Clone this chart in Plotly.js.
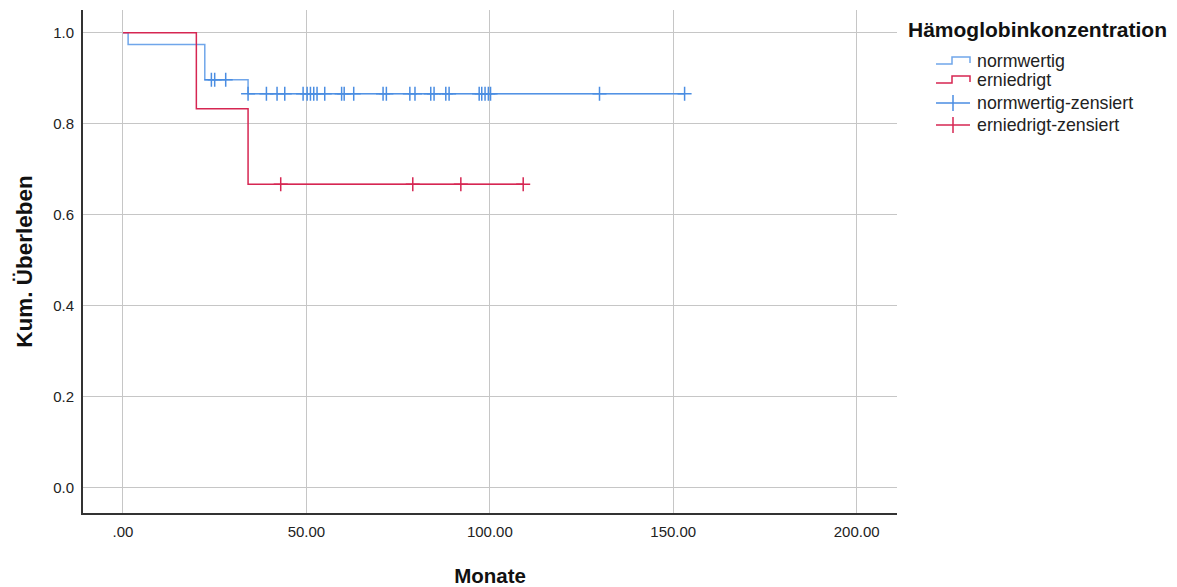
<!DOCTYPE html>
<html>
<head>
<meta charset="utf-8">
<script src="https://cdn.plot.ly/plotly-3.0.1.min.js"></script>
<style>
  html, body { margin: 0; padding: 0; background: #fff; }
  #chart { width: 1177px; height: 587px; }
</style>
</head>
<body>
<div id="chart"></div>
<script>
// Kaplan-Meier step functions (months, cumulative survival)
const normTimes = [0, 1.4, 22.3, 34.1, 153.1];
const normSurv  = [1.0, 0.974, 0.897, 0.866, 0.866];
const lowTimes  = [0, 20.0, 34.1, 109.1];
const lowSurv   = [1.0, 0.833, 0.667, 0.667];

// Censored observations (months)
const normCensored = [24.1, 25.0, 28.0, 34.1, 39.1, 42.0, 44.1, 49.1, 50.2, 51.1, 52.0,
                      52.9, 55.0, 59.6, 60.3, 62.9, 70.9, 71.8, 78.2, 79.6, 83.9, 84.8,
                      88.0, 88.9, 97.1, 97.8, 98.7, 99.6, 100.2, 129.9, 153.1];
const lowCensored  = [43.0, 79.0, 92.1, 109.1];

// Axis ticks
const xTickVals = [0, 50, 100, 150, 200];
const xTickText = ['.00', '50.00', '100.00', '150.00', '200.00'];
const yTickVals = [0, 0.2, 0.4, 0.6, 0.8, 1.0];
const yTickText = ['0.0', '0.2', '0.4', '0.6', '0.8', '1.0'];

const groupNames = ['normwertig', 'erniedrigt', 'normwertig-zensiert', 'erniedrigt-zensiert'];
const legendTitle = 'Hämoglobinkonzentration';

// survival level of a step function at time t
function levelAt(times, surv, t) {
  let s = surv[0];
  for (let i = 0; i < times.length; i++) {
    if (times[i] <= t) s = surv[i];
  }
  return s;
}

// censor marks placed on the curve; a gap is inserted where the level changes
function censorPoints(times, surv, cens) {
  const xs = [], ys = [];
  let prev = null;
  cens.forEach(t => {
    const s = levelAt(times, surv, t);
    if (prev !== null && s !== prev) { xs.push(null); ys.push(null); }
    xs.push(t); ys.push(s);
    prev = s;
  });
  return { xs, ys };
}

const blueLine = 'rgb(112,166,234)';
const blueMark = 'rgb(74,141,226)';
const redLine  = 'rgb(214,38,82)';
const font = 'Arial, "Liberation Sans", sans-serif';

const nc = censorPoints(normTimes, normSurv, normCensored);
const lc = censorPoints(lowTimes, lowSurv, lowCensored);

const traces = [
  {
    x: normTimes, y: normSurv, name: groupNames[0], type: 'scatter', mode: 'lines',
    line: { shape: 'hv', color: blueLine, width: 1.5 }
  },
  {
    x: nc.xs, y: nc.ys, name: groupNames[2], type: 'scatter', mode: 'lines+markers',
    connectgaps: false,
    line: { color: blueMark, width: 1.2 },
    marker: { symbol: 'cross-thin', size: 10, color: blueMark, line: { color: blueMark, width: 1.5 } }
  },
  {
    x: lowTimes, y: lowSurv, name: groupNames[1], type: 'scatter', mode: 'lines',
    line: { shape: 'hv', color: redLine, width: 1.5 }
  },
  {
    x: lc.xs, y: lc.ys, name: groupNames[3], type: 'scatter', mode: 'lines+markers',
    connectgaps: false,
    line: { color: redLine, width: 1.2 },
    marker: { symbol: 'cross-thin', size: 10, color: redLine, line: { color: redLine, width: 1.5 } }
  }
];

// ---- legend block to the right of the plot (paper coordinates) ----
const M = { l: 83, r: 280, t: 10, b: 74 };
const W = 1177, H = 587;
const pw = W - M.l - M.r, ph = H - M.t - M.b;
const px = v => (v - M.l) / pw;          // pixel column -> paper x
const py = v => (H - M.b - v) / ph;      // pixel row    -> paper y

const legendRows = [
  { name: groupNames[0], color: blueLine, kind: 'step',   y: 61 },
  { name: groupNames[1], color: redLine,  kind: 'step',   y: 80 },
  { name: groupNames[2], color: blueMark, kind: 'censor', y: 103 },
  { name: groupNames[3], color: redLine,  kind: 'censor', y: 125 }
];

const shapes = [];
const annotations = [{
  xref: 'paper', yref: 'paper', x: px(906), y: py(30), xanchor: 'left', yanchor: 'middle',
  text: '<b>' + legendTitle + '</b>', showarrow: false,
  font: { size: 21, color: '#111', family: font }
}];

legendRows.forEach(r => {
  const x0 = 936, x1 = 970;
  if (r.kind === 'step') {
    const lo = r.y + 3, hi = r.y - 4, xm = 952;
    shapes.push({
      type: 'path', xref: 'paper', yref: 'paper',
      path: `M${px(x0)},${py(lo)} L${px(xm)},${py(lo)} L${px(xm)},${py(hi)} L${px(x1)},${py(hi)} L${px(x1)},${py(lo - 1)}`,
      line: { color: r.color, width: 1.5 }
    });
  } else {
    shapes.push({
      type: 'line', xref: 'paper', yref: 'paper',
      x0: px(x0), x1: px(x1), y0: py(r.y), y1: py(r.y),
      line: { color: r.color, width: 1.3 }
    });
    shapes.push({
      type: 'line', xref: 'paper', yref: 'paper',
      x0: px(953), x1: px(953), y0: py(r.y - 8), y1: py(r.y + 8),
      line: { color: r.color, width: 1.5 }
    });
  }
  annotations.push({
    xref: 'paper', yref: 'paper', x: px(975), y: py(r.y), xanchor: 'left', yanchor: 'middle',
    text: r.name, showarrow: false,
    font: { size: 17.8, color: '#222', family: font }
  });
});

const layout = {
  width: W, height: H,
  margin: M,
  paper_bgcolor: '#fff', plot_bgcolor: '#fff',
  font: { family: font, color: '#222' },
  showlegend: false,
  xaxis: {
    range: [-10.9, 211],
    tickvals: xTickVals, ticktext: xTickText,
    tickfont: { size: 15, color: '#222' },
    showgrid: true, gridcolor: '#c6c6c6', gridwidth: 1,
    zeroline: false, showline: true, linecolor: '#333', linewidth: 2,
    ticks: '', ticklabelstandoff: 4, automargin: false,
    title: { text: 'Monate', font: { size: 20.5, color: '#111', family: font, weight: 'bold' }, standoff: 30 }
  },
  yaxis: {
    range: [-0.055, 1.05],
    tickvals: yTickVals, ticktext: yTickText,
    tickfont: { size: 15, color: '#222' },
    showgrid: true, gridcolor: '#c6c6c6', gridwidth: 1,
    zeroline: false, showline: true, linecolor: '#333', linewidth: 2,
    ticks: '', ticklabelstandoff: 4, automargin: false,
    title: { text: 'Kum. Überleben', font: { size: 22.5, color: '#111', family: font, weight: 'bold' }, standoff: 14 }
  },
  shapes: shapes,
  annotations: annotations
};

Plotly.newPlot('chart', traces, layout, { displayModeBar: false, staticPlot: true });
</script>
</body>
</html>
